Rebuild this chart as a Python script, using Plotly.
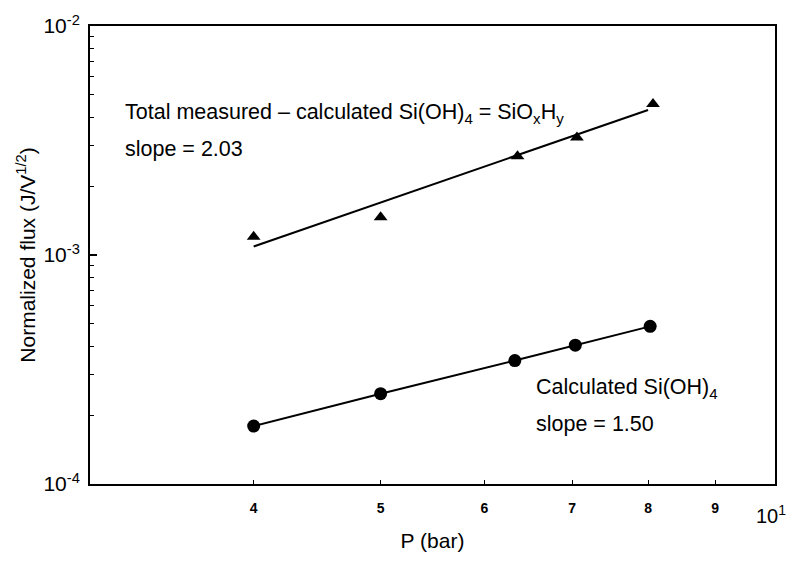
import math
import plotly.graph_objects as go

# ---- data ----
p_calc = [4.0, 5.0, 6.33, 7.04, 8.03]
flux_calc = [1.79e-4, 2.48e-4, 3.46e-4, 4.04e-4, 4.88e-4]

p_total = [4.0, 5.0, 6.36, 7.06, 8.07]
flux_total = [1.20e-3, 1.46e-3, 2.70e-3, 3.26e-3, 4.57e-3]

fit_total_p = [4.0, 8.0]
fit_total_flux = [1.09e-3, 4.30e-3]

x_tickvals = [4, 5, 6, 7, 8, 9]
x_ticktext = ["<b>4</b>", "<b>5</b>", "<b>6</b>", "<b>7</b>", "<b>8</b>", "<b>9</b>"]
x_end_label = "10<sup>1</sup>"
y_tickvals = [1e-4, 1e-3, 1e-2]
y_ticktext = ["10<sup>-4</sup>", "10<sup>-3</sup>", "10<sup>-2</sup>"]
y_minor = [m * 1e-4 for m in range(2, 10)] + [m * 1e-3 for m in range(2, 10)]

FONT = "Liberation Sans, Arial, Helvetica, sans-serif"

fig = go.Figure()

fig.add_trace(go.Scatter(
    x=p_calc, y=flux_calc, mode="lines+markers",
    line=dict(color="black", width=2),
    marker=dict(symbol="circle", size=13, color="black"),
    showlegend=False, hoverinfo="skip"))

fig.add_trace(go.Scatter(
    x=fit_total_p, y=fit_total_flux, mode="lines",
    line=dict(color="black", width=2),
    showlegend=False, hoverinfo="skip"))

fig.add_trace(go.Scatter(
    x=p_total, y=flux_total, mode="markers",
    marker=dict(symbol="triangle-up", size=12, color="black"),
    showlegend=False, hoverinfo="skip"))

ann_font = dict(family=FONT, size=21.5, color="black")
annotations = [
    dict(x=math.log10(3.18), y=-2.382, xref="x", yref="y",
         text="Total measured \u2013 calculated Si(OH)<sub>4</sub> = SiO<sub>x</sub>H<sub>y</sub>",
         showarrow=False, xanchor="left", yanchor="middle", font=ann_font),
    dict(x=math.log10(3.18), y=-2.535, xref="x", yref="y",
         text="slope = 2.03",
         showarrow=False, xanchor="left", yanchor="middle", font=ann_font),
    dict(x=0.8163, y=-3.584, xref="x", yref="y",
         text="Calculated Si(OH)<sub>4</sub>",
         showarrow=False, xanchor="left", yanchor="middle", font=ann_font),
    dict(x=0.8163, y=-3.737, xref="x", yref="y",
         text="slope = 1.50",
         showarrow=False, xanchor="left", yanchor="middle", font=ann_font),
    dict(x=1, y=-0.066, xref="x", yref="paper", xshift=-4,
         text=x_end_label, showarrow=False, xanchor="center", yanchor="middle",
         font=dict(family=FONT, size=20, color="black")),
]

fig.update_layout(
    width=792, height=561,
    margin=dict(l=90, r=17, t=16, b=74),
    paper_bgcolor="white", plot_bgcolor="white",
    font=dict(family=FONT, color="black"),
    annotations=annotations,
    xaxis=dict(
        type="log", range=[math.log10(3), 1],
        tickmode="array", tickvals=x_tickvals, ticktext=x_ticktext,
        ticks="inside", ticklen=4, tickwidth=1, tickcolor="black",
        tickfont=dict(family=FONT, size=14, color="black"),
        ticklabelstandoff=10,
        showgrid=False, zeroline=False,
        showline=True, linewidth=2, linecolor="black", mirror=True,
        title=dict(text="P (bar)", font=dict(family=FONT, size=21, color="black"), standoff=19),
    ),
    yaxis=dict(
        type="log", range=[-4, -2],
        tickmode="array", tickvals=y_tickvals, ticktext=y_ticktext,
        ticks="inside", ticklen=7, tickwidth=2, tickcolor="black",
        tickfont=dict(family=FONT, size=21, color="black"),
        ticklabelstandoff=4,
        minor=dict(tickmode="array", tickvals=y_minor, ticks="inside", ticklen=4,
                   tickwidth=1, tickcolor="black", showgrid=False),
        showgrid=False, zeroline=False,
        showline=True, linewidth=2, linecolor="black", mirror=True,
        title=dict(text="Normalized flux (J/V<sup>1/2</sup>)",
                   font=dict(family=FONT, size=21, color="black"), standoff=2),
    ),
)

fig.write_html("out.html")
